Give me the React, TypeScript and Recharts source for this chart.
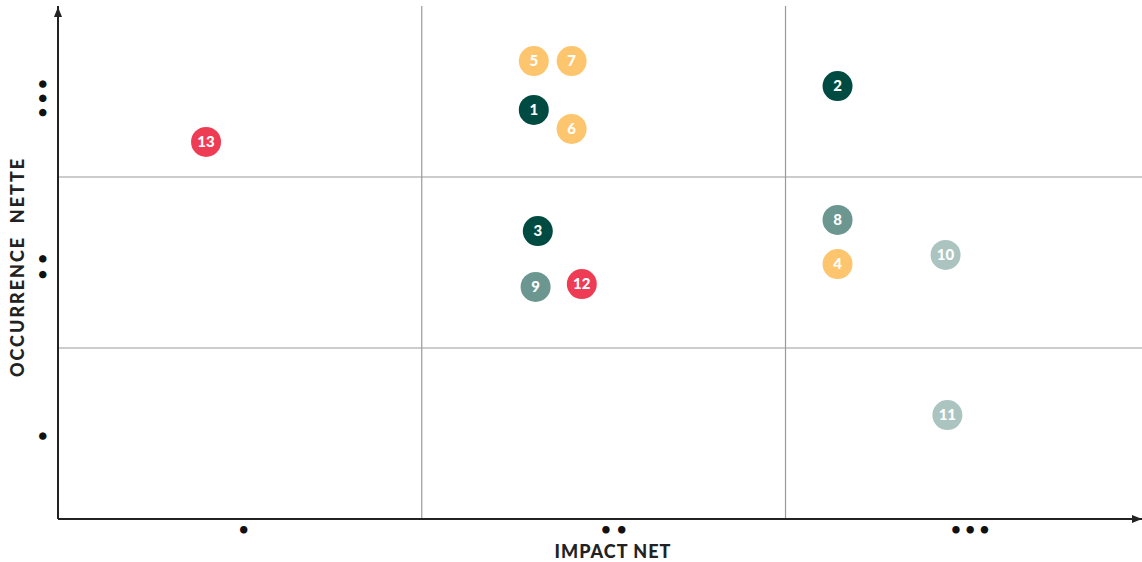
import { ScatterChart, Scatter, XAxis, YAxis, ReferenceLine, ReferenceDot } from "recharts";

const pointIds = [1, 2, 3, 4, 5, 6, 7, 8, 9, 10, 11, 12, 13];
const impact = [1.308, 2.143, 1.319, 2.143, 1.308, 1.412, 1.412, 2.143, 1.313, 2.44, 2.445, 1.44, 0.407];
const occurrence = [2.392, 2.532, 1.684, 1.491, 2.678, 2.281, 2.678, 1.749, 1.357, 1.544, 0.608, 1.374, 2.205];
const category = ["dark", "dark", "dark", "yellow", "yellow", "yellow", "yellow", "mid", "mid", "light", "light", "red", "red"];

const xTicks = [0.508, 1.525, 2.505];
const yTicks = [0.485, 1.476, 2.46];
const tickLabels = ["•", "••", "•••"];
const quadrantBounds = [1, 2];

const colors: Record<string, string> = {
  dark: "#004b41",
  yellow: "#fec56f",
  mid: "#6c9690",
  light: "#abc4c0",
  red: "#ef3c55",
};

const data = pointIds.map((id, i) => ({
  id,
  x: impact[i],
  y: occurrence[i],
  cat: category[i],
}));

const FONT = "Lato, 'DejaVu Sans', sans-serif";
const X_MAX = 2.98;
const Y_MAX = 3;
const DOT_GAP = 12.8;

const Bubble = (props: any) => {
  const { cx, cy, payload } = props;
  return (
    <g>
      <circle cx={cx} cy={cy} r={15} fill={colors[payload.cat]} />
      <text
        x={cx}
        y={cy}
        dy="0.36em"
        textAnchor="middle"
        fill="#fff"
        fontFamily={FONT}
        fontWeight={900}
        fontSize={15}
      >
        {payload.id}
      </text>
    </g>
  );
};

// the dots are drawn as one string, spread evenly with textLength
const Dots = ({ x, y, label, rotate }: any) => {
  const spread = label.length > 1 ? { textLength: label.length * DOT_GAP, lengthAdjust: "spacing" } : {};
  return (
    <text
      x={x}
      y={y}
      dy="0.3em"
      textAnchor="middle"
      fill="#111"
      fontSize={17}
      fontWeight={700}
      fontFamily={FONT}
      transform={rotate ? `rotate(-90 ${x} ${y})` : undefined}
      {...spread}
    >
      {label}
    </text>
  );
};

const XTick = (props: any) => {
  const { x, y, payload } = props;
  const label = tickLabels[xTicks.indexOf(payload.value)] ?? "";
  return <Dots x={x + 1} y={y + 3} label={label} />;
};

const YTick = (props: any) => {
  const { x, y, payload } = props;
  const label = tickLabels[yTicks.indexOf(payload.value)] ?? "";
  return <Dots x={x - 7} y={y} label={label} rotate />;
};

const XTitle = (props: any) => {
  const { viewBox } = props;
  return (
    <text
      x={viewBox.x + 555}
      y={viewBox.y + 39}
      textAnchor="middle"
      fill="#222"
      fontFamily={FONT}
      fontWeight={900}
      fontSize={18}
      letterSpacing={1}
    >
      IMPACT NET
    </text>
  );
};

const YTitle = (props: any) => {
  const { viewBox } = props;
  const cx = viewBox.x + 18;
  const cy = 267;
  return (
    <text
      x={cx}
      y={cy}
      transform={`rotate(-90 ${cx} ${cy})`}
      textAnchor="middle"
      dy="0.35em"
      fill="#222"
      fontFamily={FONT}
      fontWeight={900}
      fontSize={18}
      letterSpacing={2}
      style={{ whiteSpace: "pre" }}
    >
      OCCURRENCE  NETTE
    </text>
  );
};

const ArrowRight = (props: any) => {
  const { cx, cy } = props;
  return <path d={`M${cx} ${cy} L${cx - 10} ${cy - 4} L${cx - 10} ${cy + 4} Z`} fill="#222" />;
};

const ArrowUp = (props: any) => {
  const { cx, cy } = props;
  return <path d={`M${cx} ${cy + 1} L${cx - 4} ${cy + 11} L${cx + 4} ${cy + 11} Z`} fill="#222" />;
};

export default function App() {
  return (
    <>
      <style>{"body{margin:0}"}</style>
      <ScatterChart width={1142} height={562} margin={{ top: 6, right: 0, bottom: 0, left: 0 }}>
        <XAxis
          type="number"
          dataKey="x"
          domain={[0, X_MAX]}
          ticks={xTicks}
          tick={<XTick />}
          tickLine={false}
          axisLine={{ stroke: "#222", strokeWidth: 2 }}
          height={43}
          label={<XTitle />}
        />
        <YAxis
          type="number"
          dataKey="y"
          domain={[0, Y_MAX]}
          ticks={yTicks}
          tick={<YTick />}
          tickLine={false}
          axisLine={{ stroke: "#222", strokeWidth: 2 }}
          width={58}
          label={<YTitle />}
        />
        {quadrantBounds.map((v) => (
          <ReferenceLine key={`x${v}`} x={v} stroke="#9a9a9a" strokeWidth={1.2} />
        ))}
        {quadrantBounds.map((v) => (
          <ReferenceLine key={`y${v}`} y={v} stroke="#9a9a9a" strokeWidth={1.2} />
        ))}
        <ReferenceDot x={X_MAX} y={0} shape={<ArrowRight />} />
        <ReferenceDot x={0} y={Y_MAX} shape={<ArrowUp />} />
        <Scatter data={data} shape={<Bubble />} isAnimationActive={false} />
      </ScatterChart>
    </>
  );
}
